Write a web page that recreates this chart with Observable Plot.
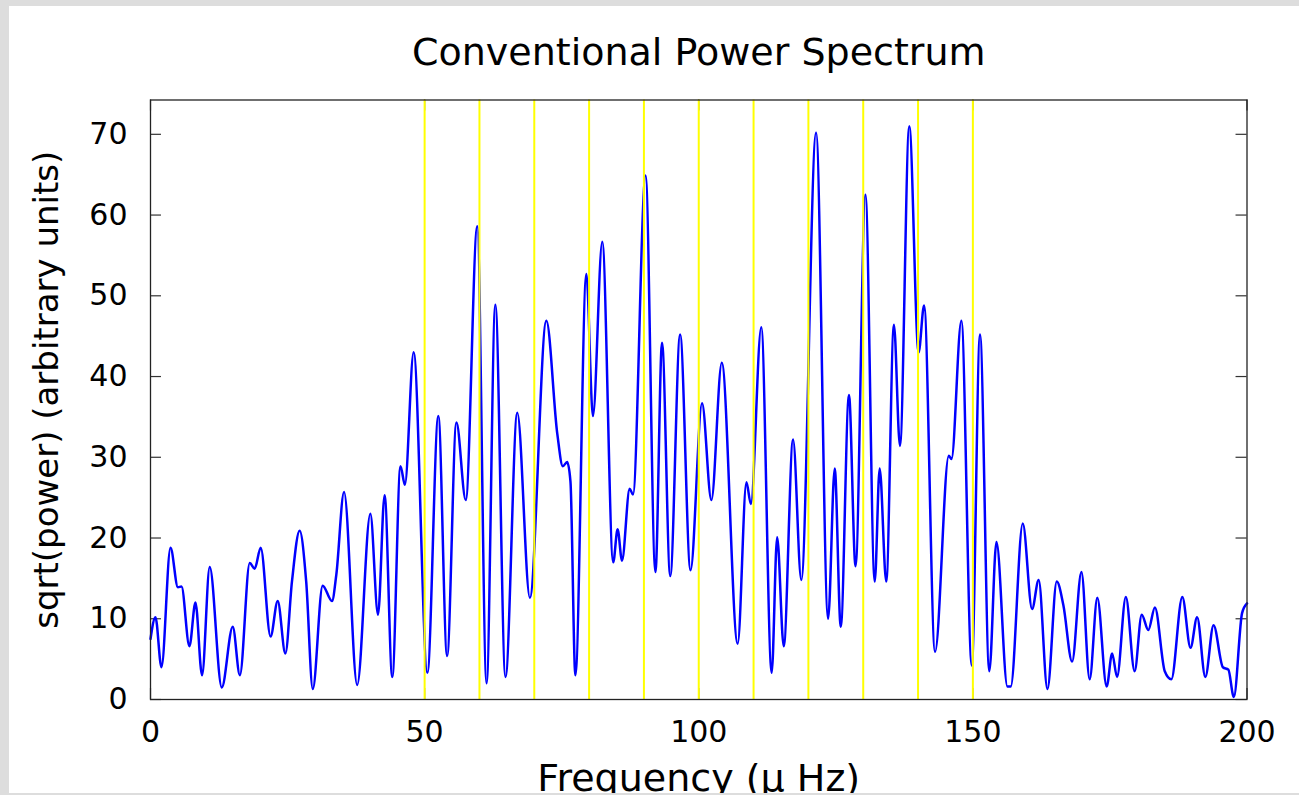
<!DOCTYPE html>
<html>
<head>
<meta charset="utf-8">
<script src="https://cdn.jsdelivr.net/npm/d3@7"></script>
<script src="https://cdn.jsdelivr.net/npm/@observablehq/plot@0.6"></script>
<style>
  html, body { margin: 0; padding: 0; background: #dddddd; overflow: hidden; }
  #panel { position: absolute; left: 9px; top: 6px; width: 1290px; height: 787px; background: #ffffff; overflow: hidden; }
</style>
</head>
<body>
<div id="panel"></div>
<script>
const freqs = [
  0.0, 0.9, 2.0, 3.65, 5.0, 5.65, 7.1, 8.2, 9.4, 10.8,
  13.0, 15.0, 16.3, 18.1, 19.0, 20.1, 21.9, 23.2, 24.6, 25.8,
  27.2, 28.4, 29.6, 31.4, 33.1, 33.9, 35.3, 37.7, 40.1, 41.5,
  42.7, 44.1, 45.6, 46.4, 48.0, 50.5, 52.5, 54.1, 55.8, 57.5,
  59.6, 61.3, 62.9, 64.75, 66.9, 69.2, 72.2, 74.2, 75.2, 76.0,
  76.6, 77.5, 79.5, 80.7, 82.4, 84.4, 85.2, 86.0, 87.4, 88.0,
  90.3, 92.1, 93.3, 94.8, 96.6, 98.5, 100.6, 102.3, 104.2, 107.1,
  108.7, 109.5, 111.4, 113.3, 114.3, 115.5, 117.2, 118.7, 121.4, 123.6,
  124.8, 125.9, 127.4, 128.6, 130.4, 132.1, 133.0, 134.2, 135.6, 136.7,
  138.4, 140.1, 141.1, 143.1, 145.6, 146.1, 147.9, 149.8, 151.3, 153.0,
  154.3, 156.3, 156.9, 159.1, 160.8, 162.0, 163.6, 165.3, 166.5, 168.1,
  169.8, 171.3, 172.7, 174.4, 175.4, 176.3, 177.9, 179.5, 180.8, 182.0,
  183.2, 185.0, 186.2, 188.2, 189.7, 190.9, 192.4, 193.9, 195.6, 196.6,
  197.6, 199.1, 200.0
];
// sqrt(power) values at those frequencies
const amps = [
  7.5, 10.2, 4.0, 18.8, 13.9, 14.0, 6.6, 12.0, 3.0, 16.4,
  1.5, 9.0, 3.0, 16.9, 16.2, 18.8, 7.8, 12.2, 5.7, 14.6,
  20.9, 14.6, 1.3, 14.1, 12.2, 15.5, 25.7, 1.8, 23.0, 10.5,
  25.3, 2.8, 28.9, 26.6, 43.0, 3.3, 35.1, 5.4, 34.3, 24.7,
  58.6, 2.0, 48.9, 2.8, 35.5, 12.6, 46.9, 32.9, 28.9, 29.4,
  27.0, 3.0, 52.7, 35.1, 56.7, 17.0, 21.1, 17.2, 26.1, 25.4,
  64.9, 15.8, 44.2, 15.3, 45.2, 16.0, 36.7, 24.7, 41.7, 6.9,
  26.9, 24.2, 46.1, 3.3, 20.1, 6.6, 32.2, 14.8, 70.2, 10.0,
  28.6, 9.0, 37.7, 16.5, 62.5, 14.6, 28.6, 14.6, 46.4, 31.4,
  71.0, 43.0, 48.8, 5.9, 30.2, 29.8, 46.9, 4.2, 45.2, 3.5,
  19.5, 1.6, 1.6, 21.8, 11.2, 14.8, 1.3, 14.6, 11.7, 4.7,
  15.8, 2.5, 12.6, 1.6, 5.7, 2.8, 12.7, 3.5, 10.5, 8.6,
  11.4, 3.5, 2.5, 12.7, 6.4, 10.2, 2.8, 9.2, 4.0, 3.7,
  0.3, 10.7, 11.9
];
// Yellow marker frequencies
const markerFreqs = [50, 60, 70, 80, 90, 100, 110, 120, 130, 140, 150];
// Axis ticks
const xTicks = [0, 50, 100, 150, 200];
const yTicks = [0, 10, 20, 30, 40, 50, 60, 70];

const titleText = "Conventional Power Spectrum";
const xLabel = "Frequency (\u03bc Hz)";
const yLabel = "sqrt(power) (arbitrary units)";

const data = freqs.map((f, i) => ({f, a: amps[i]}));
const yMax = 74.25;
const font = "DejaVu Sans";

const chart = Plot.plot({
  width: 1290,
  height: 787,
  marginLeft: 141,
  marginRight: 52.5,
  marginTop: 93.5,
  marginBottom: 94,
  style: {background: "transparent", fontFamily: font, color: "black"},
  x: {domain: [0, 200]},
  y: {domain: [0, yMax]},
  marks: [
    Plot.ruleY(yTicks, {x1: 0, x2: 2.0, stroke: "#333", strokeWidth: 1.2}),
    Plot.ruleY(yTicks, {x1: 198, x2: 200, stroke: "#333", strokeWidth: 1.2}),
    Plot.ruleX(xTicks, {y1: 0, y2: 1.36, stroke: "#333", strokeWidth: 1.2}),
    Plot.ruleX(xTicks, {y1: yMax - 1.36, y2: yMax, stroke: "#333", strokeWidth: 1.2}),
    Plot.line(data, {x: "f", y: "a", stroke: "#0000ff", strokeWidth: 2.5, curve: "monotone-x"}),
    Plot.ruleX(markerFreqs, {stroke: "#ffff00", strokeWidth: 2}),
    Plot.frame({stroke: "#222", strokeWidth: 1.3}),
    Plot.axisX(xTicks, {tickSize: 0, tickPadding: 21, fontSize: 30, fontFamily: font, label: null}),
    Plot.axisY(yTicks, {tickSize: 0, tickPadding: 23, fontSize: 30, fontFamily: font, label: null}),
    Plot.text([titleText], {text: d => d, frameAnchor: "top", lineAnchor: "bottom", dy: -35.5, fontSize: 38, fontFamily: font, fill: "black"}),
    Plot.text([xLabel], {text: d => d, frameAnchor: "bottom", lineAnchor: "bottom", dy: 91, fontSize: 38, fontFamily: font, fill: "black"}),
    Plot.text([yLabel], {text: d => d, frameAnchor: "left", textAnchor: "middle", lineAnchor: "middle", rotate: -90, dx: -103, dy: -10, fontSize: 34, fontFamily: font, fill: "black"})
  ]
});
document.getElementById("panel").appendChild(chart);
</script>
</body>
</html>
